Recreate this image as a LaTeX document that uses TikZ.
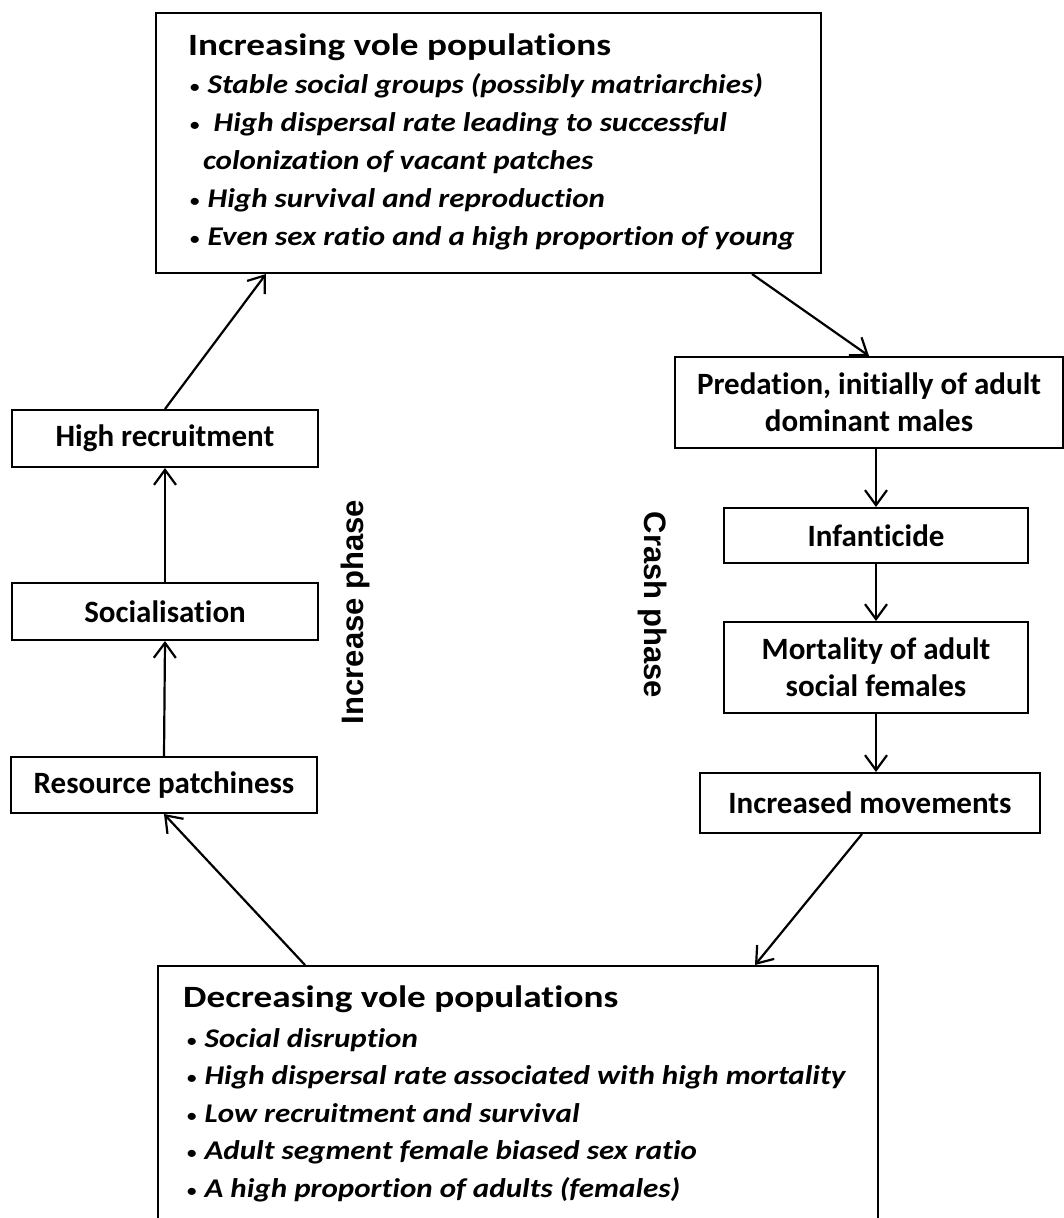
\documentclass[tikz,border=0pt]{standalone}
\usepackage{fontspec}
\setmainfont{Carlito}[Ligatures=NoCommon]
\newfontfamily\ttlfont{Carlito}[FakeStretch=1.2, Ligatures=NoCommon]
\newfontfamily\bulfont{Carlito}[FakeStretch=1.15, Ligatures=NoCommon]
\newfontfamily\phasefont{Liberation Sans}
\newcommand\bdot[1][7pt]{{\mdseries\upshape\fontsize{20}{20}\selectfont•}\hspace{#1}}
\usetikzlibrary{arrows.meta}
\begin{document}
\begin{tikzpicture}[x=1pt,y=-1pt,
  lbox/.style={draw, line width=2pt, inner sep=0pt, font=\bfseries\fontsize{31}{37}\selectfont, align=center},
  bigbox/.style={draw, line width=2pt, inner sep=0pt, anchor=north west},
  ttl/.style={anchor=base west, inner sep=0pt, font=\ttlfont\bfseries\fontsize{31}{36}\selectfont},
  bul/.style={anchor=base west, inner sep=0pt, font=\bulfont\bfseries\itshape\fontsize{27}{32}\selectfont},
  arr/.style={line width=2.2pt, -{Straight Barb[length=15pt,width=22pt]}},
  phase/.style={font=\phasefont\bfseries\fontsize{31}{36}\selectfont, inner sep=0pt}]
\useasboundingbox (0,0) rectangle (1064,1218);
\clip (0,0) rectangle (1064,1218);

% top box
\node[bigbox, minimum width=665, minimum height=260] (tb) at (155,12) {};
\node[ttl] (tbt) at (188,55) {Increasing vole populations};
\node[bul] (tb1) at (189,93) {\bdot Stable social groups (possibly matriarchies)};
\node[bul] (tb2) at (189,131) {\bdot[13pt]High dispersal rate leading to successful};
\node[bul] (tb3) at (203,169) {colonization of vacant patches};
\node[bul] (tb4) at (189,207) {\bdot High survival and reproduction};
\node[bul] (tb5) at (189,245) {\bdot Even sex ratio and a high proportion of young};

% bottom box
\node[bigbox, minimum width=720, minimum height=300] (bb) at (157,965) {};
\node[ttl] (bbt) at (183,1007) {Decreasing vole populations};
\node[bul] (bb1) at (186,1047) {\bdot Social disruption};
\node[bul] (bb2) at (186,1084.5) {\bdot High dispersal rate associated with high mortality};
\node[bul] (bb3) at (186,1122) {\bdot Low recruitment and survival};
\node[bul] (bb4) at (186,1159.5) {\bdot Adult segment female biased sex ratio};
\node[bul] (bb5) at (186,1197) {\bdot A high proportion of adults (females)};

% left chain
\node[lbox, minimum width=306, minimum height=57] (hr) at (165,438.5) {High recruitment};
\node[lbox, minimum width=306, minimum height=57] (soc) at (165,611.5) {Socialisation};
\node[lbox, minimum width=306, minimum height=56] (rp) at (164,785) {Resource patchiness};

% right chain
\node[lbox, minimum width=388, minimum height=91] (pred) at (869,402.5) {Predation, initially of adult\\dominant males};
\node[lbox, minimum width=304, minimum height=55] (inf) at (876,535.5) {Infanticide};
\node[lbox, minimum width=304, minimum height=91] (mort) at (876,667.5) {Mortality of adult\\social females};
\node[lbox, minimum width=340, minimum height=60] (inc) at (870,803) {Increased movements};

% phase labels
\node[phase, rotate=90] (ip) at (355,612) {Increase phase};
\node[phase, rotate=-90] (cp) at (653,605) {Crash phase};

% connectors
\draw[arr] (rp.north) -- (soc.south);
\draw[arr] (soc.north) -- (hr.south);
\draw[arr] (hr.north) -- ([xshift=111pt]tb.south west);
\draw[arr] ([xshift=597pt]tb.south west) -- (pred.north);
\draw[arr] (pred.south -| inf.north) -- (inf.north);
\draw[arr] (inf.south) -- (mort.north);
\draw[arr] (mort.south) -- (mort.south |- inc.north);
\draw[arr] ([xshift=-8pt]inc.south) -- ([xshift=598pt]bb.north west);
\draw[arr] ([xshift=148pt]bb.north west) -- (rp.south);
\end{tikzpicture}
\end{document}
